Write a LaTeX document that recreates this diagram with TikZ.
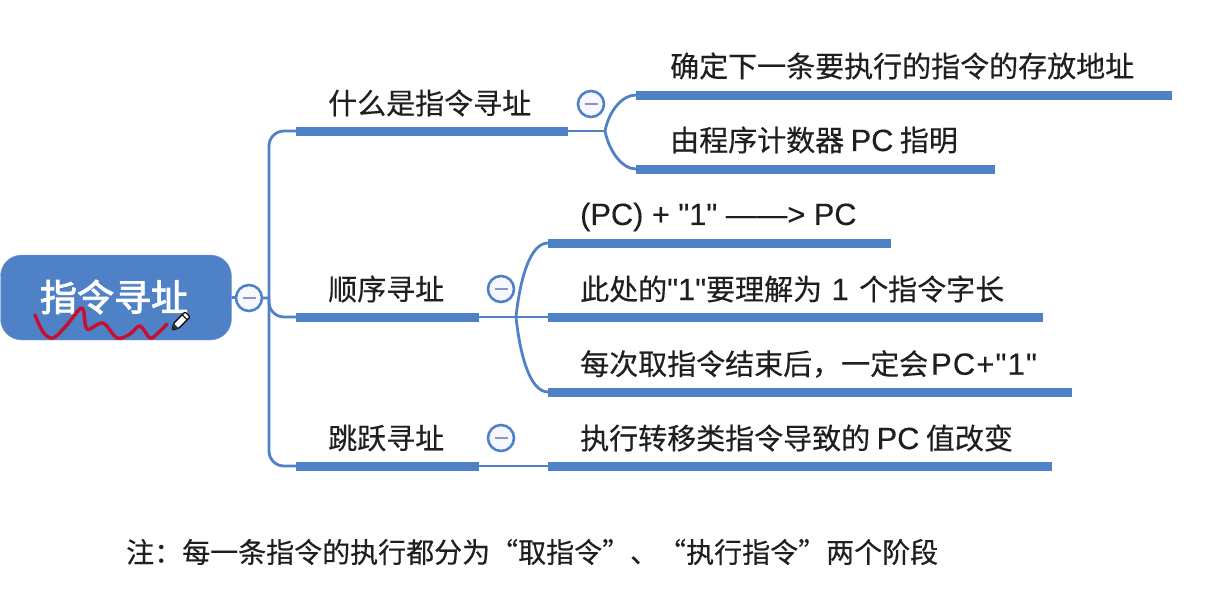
\documentclass[tikz,border=0pt]{standalone}
\usepackage{fontspec}
\setmainfont{Noto Sans CJK SC}[FakeBold=0.4]
\newfontfamily\rootfont{Noto Sans CJK SC}[FakeBold=2.5]
\newfontfamily\latfont{Liberation Sans}[Scale=1.06,FakeBold=0.3]
\newfontfamily\widefont{Liberation Sans}[Scale=1.06,LetterSpace=4,FakeBold=0.3]
\newcommand{\la}[1]{{\latfont #1}}
\newcommand{\lw}[1]{{\widefont #1}}
\newcommand{\oq}{\makebox[1em][r]{“}}
\newcommand{\cq}{\makebox[1em][l]{”}}
\definecolor{mapblue}{HTML}{4F81C7}
\definecolor{minusblue}{HTML}{9094C4}
\definecolor{inkred}{HTML}{C8102E}
\tikzset{
  barnode/.style={fill=mapblue,inner sep=0pt,minimum height=9pt,anchor=west},
  textnode/.style={inner sep=0pt,anchor=west,text=black!88,font=\fontsize{29}{29}\selectfont},
  foldnode/.style={circle,draw=mapblue,line width=2.6pt,fill=blue!3,inner sep=0pt,minimum size=26pt},
  linkline/.style={draw=mapblue,line width=2.8pt},
}
\begin{document}
\begin{tikzpicture}[x=1pt,y=-1pt]
    \useasboundingbox (0,0) rectangle (1226,602);

    \node[fill=mapblue,draw=mapblue!70,rounded corners=21pt,minimum width=231pt,minimum height=85pt,inner sep=0pt] (root) at (116,297.5) {};
    \node[text=white,inner sep=0pt,font=\fontsize{37}{37}\selectfont\rootfont] (roottext) at (114,297) {指令寻址};

    \foreach \x\y\w\n in {
        296/131/272/barwhat,
        296/317/183/barseq,
        296/466/183/barjump,
        636/95/536/barfirst,
        636/169/359/barsecond,
        548/243/343/barone,
        548/317/495/bartwo,
        548/392/524/barthree,
        548/466/504/barfour}{
      \node[barnode,minimum width=\w pt] (\n) at (\x,\y) {};
    }

    \node[textnode] (whattext) at (328,103) {什么是指令寻址};
    \node[textnode] (seqtext) at (328,289) {顺序寻址};
    \node[textnode] (jumptext) at (328,438) {跳跃寻址};
    \node[textnode] (firsttext) at (670,66) {确定下一条要执行的指令的存放地址};
    \node[textnode] (secondtext) at (670,140) {由程序计数器 \la{PC} 指明};
    \node[textnode] (onetext) at (580,217) {\la{(PC) + "1" ——> PC}};
    \node[textnode] (twotext) at (580,289) {此处的\la{"1"}要理解为\hspace{3pt} \la{1} \hspace{4pt}个指令字长};
    \node[textnode] (threetext) at (580,364) {每次取指令结束后^^^^ff0c一定会\hspace{3pt}\lw{PC+"1"}};
    \node[textnode] (fourtext) at (580,438) {执行转移类指令导致的 \la{PC} 值改变};
    \node[textnode,font=\fontsize{28}{28}\selectfont] (notetext) at (126,552) {注^^^^ff1a每一条指令的执行都分为\oq 取指令\cq 、\oq 执行指令\cq 两个阶段};

    \coordinate (spinetop) at (269,131);
    \coordinate (spinemid) at (269,298);
    \coordinate (spinebot) at (269,466);
    \coordinate (forkwhat) at (605,131);
    \coordinate (forkseq) at (516,317);

    \draw[linkline,rounded corners=15pt] (barwhat.west) -- (spinetop) -- (spinebot) -- (barjump.west);
    \draw[linkline,rounded corners=15pt] (spinemid) |- (barseq.west);
    \draw[linkline] (root.east) -- (spinemid);
    \draw[linkline] (barwhat.east) -- (forkwhat);
    \draw[linkline] (forkwhat) .. controls +(4,-20) and +(-14,0) .. (barfirst.west);
    \draw[linkline] (forkwhat) .. controls +(4,20) and +(-14,0) .. (barsecond.west);
    \draw[linkline] (barseq.east) -- (bartwo.west);
    \draw[linkline] (forkseq) .. controls +(4,-38) and +(-18,0) .. (barone.west);
    \draw[linkline] (forkseq) .. controls +(4,38) and +(-18,0) .. (barthree.west);
    \draw[linkline] (barjump.east) -- (barfour.west);

    \foreach \x\y\n in {
        249/298/foldroot,
        591/104/foldwhat,
        501/289/foldseq,
        501/438/foldjump}{
      \node[foldnode] (\n) at (\x,\y) {};
      \draw[minusblue,line width=2.8pt] ([xshift=-6.5pt]\n.center) -- ([xshift=6.5pt]\n.center);
    }

    \draw[inkred,line width=3.4pt,line cap=round,line join=round] plot[smooth,tension=0.55] coordinates {
        (35,315) (43,332) (53,338) (66,326) (82,308) (87,329) (103,323) (117,338) (130,334) (140,326) (150,338) (158,333) (167,324)};

    % pencil
    \begin{scope}[shift={(172,330)},rotate=45]
      \draw[black,fill=white,line width=1.2pt,line join=round,rounded corners=1pt] (0,0) -- (6,-3.5) -- (22,-3.5) -- (22,3.5) -- (6,3.5) -- cycle;
      \fill[black!80] (0,0) -- (6,-3.5) -- (6,3.5) -- cycle;
      \draw[black,line width=1pt] (18,-3.5) -- (18,3.5);
    \end{scope}
\end{tikzpicture}
\end{document}
